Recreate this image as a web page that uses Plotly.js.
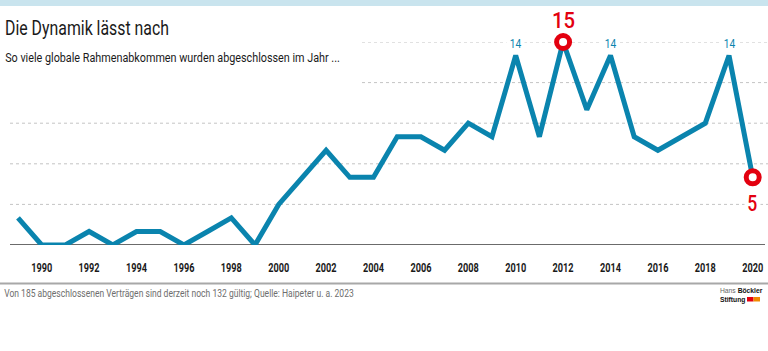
<!DOCTYPE html>
<html>
<head>
<meta charset="utf-8">
<script src="https://cdn.plot.ly/plotly-3.0.1.min.js"></script>
<style>
html,body{margin:0;padding:0;background:#fff;}
#chart{width:768px;height:351px;}
</style>
</head>
<body>
<div id="chart"></div>
<script>
const years = [1989,1990,1991,1992,1993,1994,1995,1996,1997,1998,1999,2000,2001,2002,2003,2004,2005,2006,2007,2008,2009,2010,2011,2012,2013,2014,2015,2016,2017,2018,2019,2020];
const agreements = [2,0,0,1,0,1,1,0,1,2,0,3,5,7,5,5,8,8,7,9,8,14,8,15,10,14,8,7,8,9,14,5];
const tickYears = [1990,1992,1994,1996,1998,2000,2002,2004,2006,2008,2010,2012,2014,2016,2018,2020];
const gridValues = [3,6,9,12,15];
const titleText = "Die Dynamik lässt nach";
const subtitleText = "So viele globale Rahmenabkommen wurden abgeschlossen im Jahr ...";
const footerText = "Von 185 abgeschlossenen Verträgen sind derzeit noch 132 gültig; Quelle: Haipeter u. a. 2023";
const logoText = '<span style="color:#666">Hans </span><b>Böckler</b><br><b>Stiftung</b>';

const FONT = 'Roboto, "DejaVu Sans Condensed", Arial, sans-serif';
const BLUE = '#0a84ae';
const RED = '#e3000f';

const W = 768, H = 351, ML = 10, MR = 0, MT = 42, MB = 106;
const plotW = W - ML - MR, plotH = H - MT - MB;
const px2x = p => (p - ML) / plotW;
const py2y = p => (H - MB - p) / plotH;

const maxVal = Math.max(...agreements);
const iMax = agreements.indexOf(maxVal);
const iLast = agreements.length - 1;
const highlightIdx = [iMax, iLast];

const shapes = [];
shapes.push({type:'rect', xref:'paper', yref:'paper', x0:px2x(0), x1:px2x(W), y0:py2y(0), y1:py2y(6), fillcolor:'#c9e4ee', line:{width:0}, layer:'below'});
gridValues.forEach(v => {
  const start = v >= 12 ? px2x(362) : 0;
  shapes.push({type:'line', xref:'paper', yref:'y', x0:start, x1:1, y0:v, y1:v, line:{color:'#c4c4c4', width:1, dash:'dot'}, layer:'below'});
});
shapes.push({type:'line', xref:'paper', yref:'y', x0:0, x1:px2x(765), y0:0, y1:0, line:{color:'#3a3a3a', width:1.5}, layer:'below'});
shapes.push({type:'line', xref:'paper', yref:'paper', x0:px2x(0), x1:px2x(W), y0:py2y(283.5), y1:py2y(283.5), line:{color:'#a8a8a8', width:2}});
shapes.push({type:'rect', xref:'paper', yref:'paper', x0:px2x(747), x1:px2x(753.5), y0:py2y(297), y1:py2y(301.5), fillcolor:RED, line:{width:0}});
shapes.push({type:'rect', xref:'paper', yref:'paper', x0:px2x(753.5), x1:px2x(760), y0:py2y(297), y1:py2y(301.5), fillcolor:'#f08a00', line:{width:0}});

const annotations = [];
const fit = [];
function addAnn(a, w, origin, h){ annotations.push(a); fit.push(w ? {w:w, origin:origin, h:h} : null); }

addAnn({xref:'paper', yref:'paper', x:px2x(3), y:py2y(29), xanchor:'left', yanchor:'middle', showarrow:false, text:titleText, font:{family:FONT, size:19.5, color:'#1a1a1a'}}, 164, 'left');
addAnn({xref:'paper', yref:'paper', x:px2x(3), y:py2y(57), xanchor:'left', yanchor:'middle', showarrow:false, text:subtitleText, font:{family:FONT, size:12.5, color:'#1a1a1a'}}, 335, 'left');
addAnn({xref:'paper', yref:'paper', x:px2x(2), y:py2y(293.5), xanchor:'left', yanchor:'middle', showarrow:false, text:footerText, font:{family:FONT, size:10.5, color:'#6e6e6e'}}, 350, 'left');
addAnn({xref:'paper', yref:'paper', x:px2x(718), y:py2y(295.5), xanchor:'left', yanchor:'middle', align:'left', showarrow:false, text:logoText, font:{family:'Liberation Sans, Arial, sans-serif', size:8.5, color:'#111'}}, 43, 'left', 0.8);

years.forEach((yr, i) => {
  if (agreements[i] === 14) {
    addAnn({x:yr, y:agreements[i], xref:'x', yref:'y', yshift:12, showarrow:false, text:String(agreements[i]), bgcolor:'#ffffff', borderpad:1, font:{family:FONT, size:13, color:BLUE}}, 12, 'center');
  }
});
addAnn({x:years[iMax], y:agreements[iMax], xref:'x', yref:'y', yshift:22, showarrow:false, text:String(agreements[iMax]), font:{family:FONT, size:22, color:RED, weight:500}}, 23, 'center');
addAnn({x:years[iLast], y:agreements[iLast], xref:'x', yref:'y', yshift:-26, showarrow:false, text:String(agreements[iLast]), bgcolor:'#ffffff', borderpad:1, font:{family:FONT, size:22, color:RED, weight:500}}, 10, 'center');

const traces = [
  {x:years, y:agreements, type:'scatter', mode:'lines', line:{color:BLUE, width:5}, cliponaxis:false, hoverinfo:'skip'},
  {x:highlightIdx.map(i=>years[i]), y:highlightIdx.map(i=>agreements[i]), type:'scatter', mode:'markers', marker:{size:13, color:'#ffffff', line:{color:RED, width:5}}, cliponaxis:false, hoverinfo:'skip'}
];

const pxPerYear = (753 - 42) / 30;
const layout = {
  width:W, height:H,
  margin:{l:ML, r:MR, t:MT, b:MB, pad:0},
  paper_bgcolor:'#ffffff', plot_bgcolor:'rgba(0,0,0,0)',
  showlegend:false,
  xaxis:{range:[1989 - (18-ML)/pxPerYear, 1989 + (W-MR-18)/pxPerYear], tickvals:tickYears, ticktext:tickYears.map(String), showgrid:false, zeroline:false, showline:false, ticks:'outside', ticklen:11, tickcolor:'rgba(0,0,0,0)', tickfont:{family:FONT, size:12.5, color:'#1a1a1a', weight:'bold'}, fixedrange:true},
  yaxis:{range:[0,15], showgrid:false, zeroline:false, showline:false, showticklabels:false, ticks:'', fixedrange:true},
  shapes:shapes,
  annotations:annotations
};

function squeeze(el, targetW, origin, sy){
  const bb = el.getBBox();
  if (!bb.width) return;
  const s = targetW / bb.width;
  const ox = origin === 'left' ? bb.x : bb.x + bb.width/2;
  const oy = bb.y + bb.height/2;
  const k = sy || 1;
  const prev = el.getAttribute('transform') || '';
  el.setAttribute('transform', prev + ' translate(' + ox + ',' + oy + ') scale(' + s + ',' + k + ') translate(' + (-ox) + ',' + (-oy) + ')');
}

Plotly.newPlot('chart', traces, layout, {staticPlot:true, displayModeBar:false}).then(() => {
  document.querySelectorAll('#chart g.annotation').forEach(g => {
    const idx = +g.getAttribute('data-index');
    const f = fit[idx];
    if (!f) return;
    const t = g.querySelector('text.annotation-text');
    if (t) squeeze(t, f.w, f.origin, f.h);
  });
  const ticks = document.querySelectorAll('#chart .xtick text');
  if (ticks.length) {
    const w0 = ticks[0].getBBox().width;
    ticks.forEach(t => squeeze(t, 21 * t.getBBox().width / w0, 'center'));
  }
});
</script>
</body>
</html>
